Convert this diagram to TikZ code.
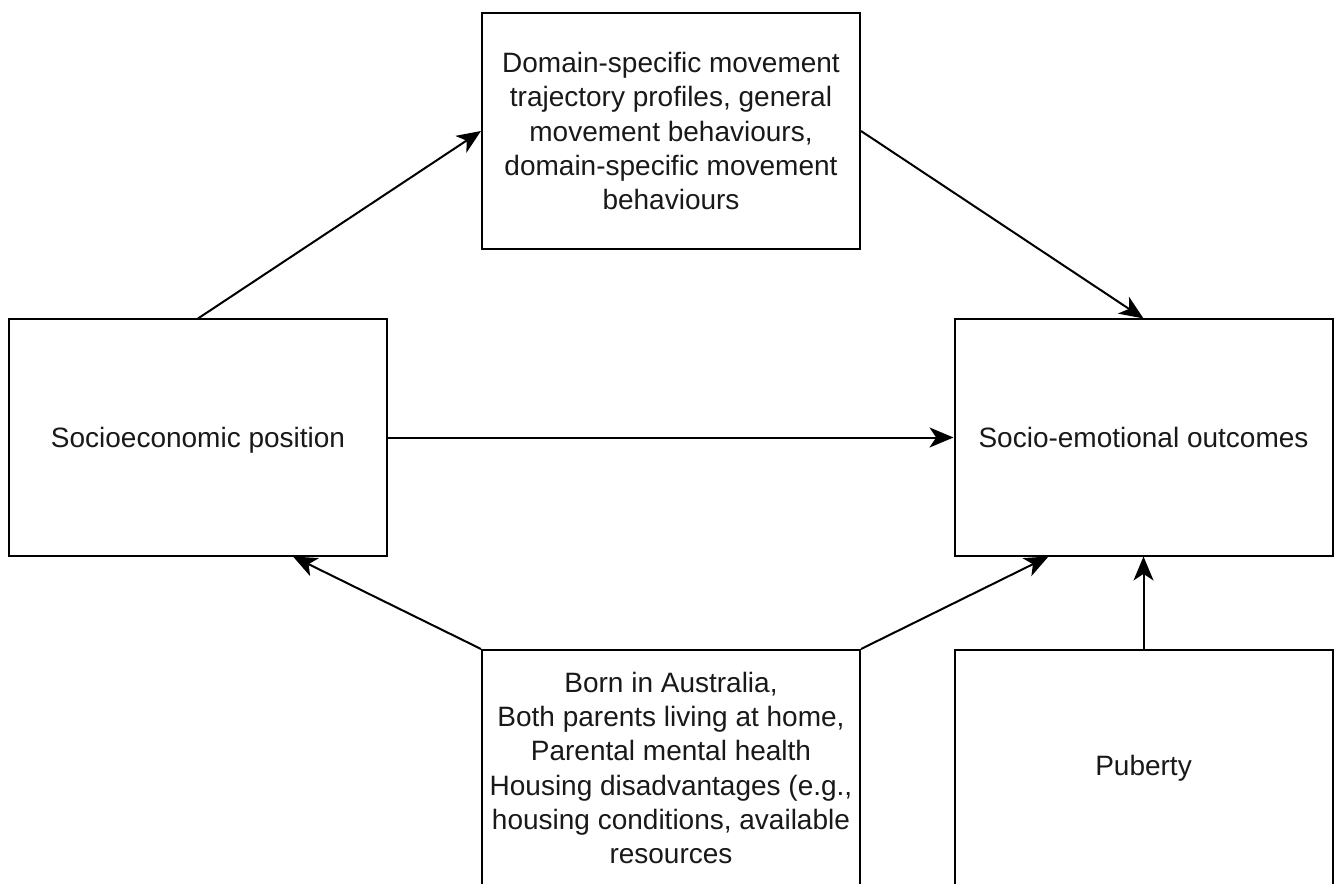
\documentclass[tikz,border=0pt]{standalone}
\usepackage{fontspec}
\setmainfont{Liberation Sans}
\usetikzlibrary{arrows.meta,calc}

\tikzset{
  box/.style={draw=black, line width=1.5pt, fill=white, rectangle,
    minimum width=283.5pt, minimum height=177pt, inner sep=0pt,
    align=center, text=black!90,
    font=\fontsize{21pt}{25.6pt}\selectfont},
  link/.style={draw=black, line width=1.5pt,
    -{Stealth[length=18pt, width=15pt, inset=5pt]}}
}

\begin{document}
\begin{tikzpicture}[x=0.75pt, y=-0.75pt]
  \clip (0,0) rectangle (1335,884);
  \fill[white] (0,0) rectangle (1335,884);

  % boxes
  \node[box] (move) at (671,131) {Domain-specific movement\\trajectory profiles, general\\movement behaviours,\\domain-specific movement\\behaviours};
  \node[box, text depth=0pt] (sep) at (198,437.5) {Socioeconomic position};
  \node[box] (out) at (1143.5,437.5) {Socio-emotional outcomes};
  \node[box] (cov) at (671,768) {Born in Australia,\\Both parents living at home,\\Parental mental health\\Housing disadvantages (e.g.,\\housing conditions, available\\resources};
  \node[box] (pub) at (1143.5,768) {Puberty};

  % connectors
  \draw[link] (sep.north) -- (move.west);
  \draw[link] (move.east) -- (out.north);
  \draw[link] (sep.east) -- (out.west);
  \draw[link] (cov.north west) -- ($(sep.south west)!0.75!(sep.south east)$);
  \draw[link] (cov.north east) -- ($(out.south west)!0.25!(out.south east)$);
  \draw[link] (pub.north) -- (out.south);
\end{tikzpicture}
\end{document}
